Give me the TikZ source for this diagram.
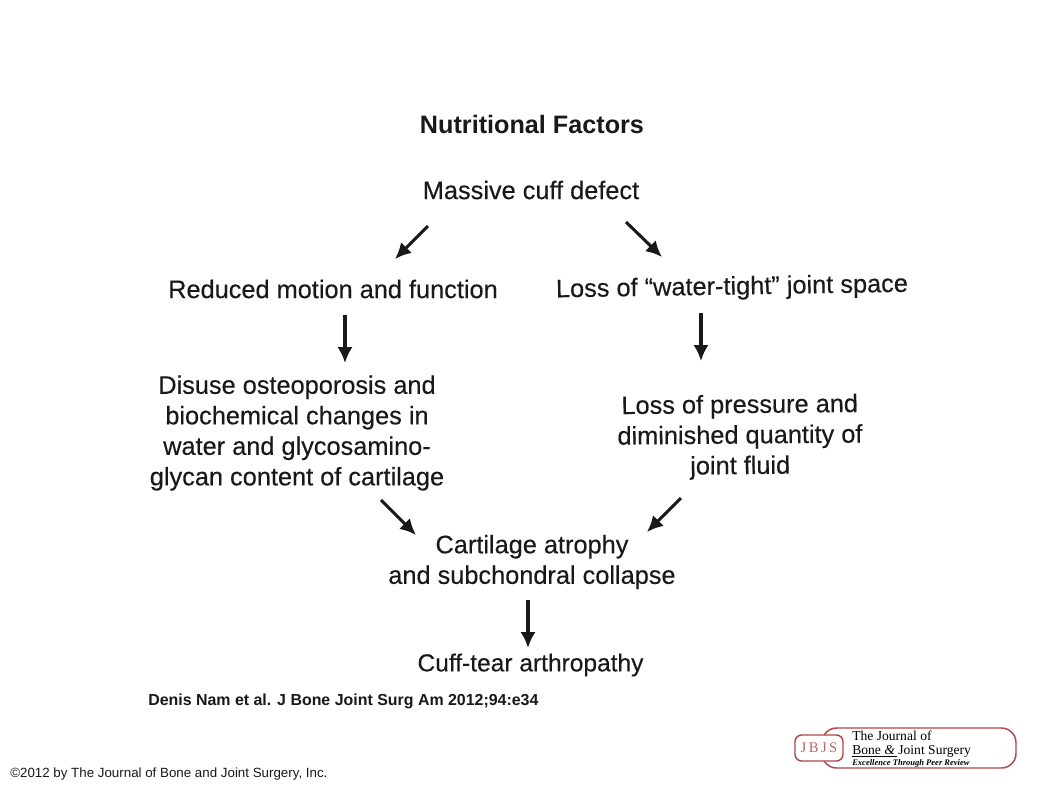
\documentclass[tikz,border=0pt]{standalone}
\usepackage{fontspec}
\setmainfont{Liberation Sans}
\newfontfamily\flowfont[FakeBold=0.25]{Liberation Sans}
\newfontfamily\jfont{Liberation Serif}
\usetikzlibrary{arrows.meta}
\definecolor{jbjsred}{RGB}{176,72,72}
\definecolor{ink}{RGB}{25,25,25}
\tikzset{
  x=0.75pt,y=-0.75pt,
  lab/.style={font=\flowfont\fontsize{19pt}{22.9pt}\selectfont,text=ink,align=center,inner sep=0pt},
  flow/.style={draw=ink,line width=2.3pt,-{Latex[length=12pt,width=11.5pt]}},
  captxt/.style={font=\fontsize{10pt}{12pt}\selectfont,inner sep=0pt,anchor=base west},
  jtxt/.style={inner sep=0pt,anchor=base west,font=\jfont\fontsize{10.2pt}{11pt}\selectfont},
}
\begin{document}
\begin{tikzpicture}
\useasboundingbox[fill=white] (0,0) rectangle (1058,793);
\node[lab,font=\fontsize{18.9pt}{22pt}\selectfont\bfseries] (title) at (532,124) {Nutritional Factors};
\node[lab] (cuff) at (531,190) {Massive cuff defect};
\node[lab] (motion) at (333,289) {Reduced motion and function};
\node[lab,rotate=0.9] (space) at (732,288) {Loss of “water-tight” joint space};
\node[lab] (disuse) at (297,433) {Disuse osteoporosis and\\biochemical changes in\\water and glycosamino-\\glycan content of cartilage};
\node[lab,rotate=0.5] (pressure) at (740,437) {Loss of pressure and\\diminished quantity of\\joint fluid};
\node[lab] (atrophy) at (532,562) {Cartilage atrophy\\and subchondral collapse};
\node[lab,font=\flowfont\fontsize{18.4pt}{22pt}\selectfont] (arthro) at (530.5,665) {Cuff-tear arthropathy};
\coordinate (a1s) at (428,226); \coordinate (a1e) at (395,259);
\coordinate (a2s) at (626,222); \coordinate (a2e) at (662,257);
\coordinate (a3s) at (345,315); \coordinate (a3e) at (345,363);
\coordinate (a4s) at (701,313); \coordinate (a4e) at (701,361);
\coordinate (a5s) at (381,500); \coordinate (a5e) at (416,535);
\coordinate (a6s) at (681,498); \coordinate (a6e) at (647,532);
\coordinate (a7s) at (528,600); \coordinate (a7e) at (528,648);
\draw[flow] (a1s) -- (a1e);
\draw[flow] (a2s) -- (a2e);
\draw[flow] (a3s) -- (a3e);
\draw[flow] (a4s) -- (a4e);
\draw[flow] (a5s) -- (a5e);
\draw[flow] (a6s) -- (a6e);
\draw[flow] (a7s) -- (a7e);
\node[captxt,font=\fontsize{11.95pt}{13pt}\selectfont\bfseries,text=ink] (cite) at (148,705) {Denis Nam et al. J Bone Joint Surg Am 2012;94:e34};
\node[captxt,text=ink] (copy) at (10,777) {©2012 by The Journal of Bone and Joint Surgery, Inc.};
\draw[jbjsred,line width=1.1pt,rounded corners=11pt] (822,736) -- (822,728) -- (1016,728) -- (1016,768) -- (822,768) -- (822,760);
\node[draw=jbjsred,fill=white,line width=1.1pt,rounded corners=5pt,minimum width=36pt,inner sep=0pt,minimum height=19.5pt,text=jbjsred!85,font=\jfont\fontsize{11pt}{11pt}\selectfont] (jbjs) at (819,748) {J\,B\,J\,S};
\node[jtxt] (j1) at (852,740) {The Journal of};
\node[jtxt] (j2) at (852,754) {Bone \textit{\&} Joint Surgery};
\draw[line width=0.4pt] (852,756.5) -- (897,756.5);
\node[jtxt,font=\jfont\itshape\bfseries\fontsize{6.4pt}{7pt}\selectfont] (j3) at (852,765.5) {Excellence Through Peer Review};
\end{tikzpicture}
\end{document}
